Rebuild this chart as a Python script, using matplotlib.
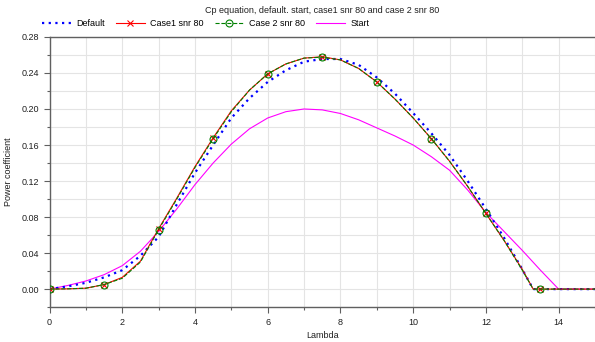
import numpy as np
import matplotlib
matplotlib.use('Agg')
import matplotlib.pyplot as plt
from matplotlib.ticker import MultipleLocator, FormatStrFormatter

plt.rcParams['font.family'] = ['Liberation Sans', 'DejaVu Sans']

# lambda values
lam_def = [0, 0.5, 1, 1.5, 2, 2.5, 3, 3.5, 4, 4.5, 5, 5.5, 6, 6.5, 7, 7.5, 8,
           8.5, 9, 9.5, 10, 10.5, 11, 11.5, 12, 12.5, 13, 13.3, 13.5, 14, 14.5, 15]
cp_def = [0, 0.003, 0.007, 0.013, 0.021, 0.037, 0.058, 0.094, 0.129, 0.160,
          0.190, 0.212, 0.230, 0.243, 0.2525, 0.2555, 0.2555, 0.249, 0.235,
          0.217, 0.1955, 0.173, 0.149, 0.120, 0.089, 0.057, 0.022, 0.0, 0, 0, 0, 0]

lam_case = [0, 0.5, 1, 1.5, 2, 2.5, 3, 3.5, 4, 4.5, 5, 5.5, 6, 6.5, 7, 7.5, 8,
            8.5, 9, 9.5, 10, 10.5, 11, 11.5, 12, 12.5, 13, 13.3, 13.5, 14, 14.5, 15]
cp_case1 = [0, 0.0003, 0.001, 0.005, 0.013, 0.031, 0.067, 0.101, 0.136, 0.168,
            0.198, 0.221, 0.239, 0.250, 0.2565, 0.258, 0.2545, 0.245, 0.230,
            0.211, 0.190, 0.167, 0.142, 0.114, 0.084, 0.054, 0.022, 0.0, 0, 0, 0, 0]
cp_case2 = [0, 0.0003, 0.001, 0.005, 0.012, 0.030, 0.066, 0.100, 0.135, 0.167,
            0.197, 0.221, 0.239, 0.250, 0.2565, 0.2575, 0.2545, 0.245, 0.230,
            0.211, 0.190, 0.167, 0.142, 0.114, 0.084, 0.054, 0.021, 0.0, 0, 0, 0, 0]
marker_lam = [0, 1.5, 3, 4.5, 6, 7.5, 9, 10.5, 12, 13.5]

lam_start = [0, 0.5, 1, 1.5, 2, 2.5, 3, 3.5, 4, 4.5, 5, 5.5, 6, 6.5, 7, 7.5, 8,
             8.5, 9, 9.5, 10, 10.5, 11, 11.5, 12, 12.5, 13, 13.5, 14, 14.5, 15]
cp_start = [0, 0.004, 0.009, 0.016, 0.026, 0.042, 0.064, 0.089, 0.116, 0.140,
            0.161, 0.178, 0.190, 0.197, 0.200, 0.199, 0.195, 0.188, 0.179,
            0.170, 0.160, 0.147, 0.132, 0.110, 0.085, 0.064, 0.043, 0.021, 0.0, 0, 0]

marks = [i for i, l in enumerate(lam_case) if l in marker_lam]

fig = plt.figure(figsize=(5.95, 3.42), dpi=100)
ax = fig.add_axes([0.0832, 0.102, 0.9168, 0.79])

ax.plot(lam_def, cp_def, color='#0000ff', linestyle=(0, (1, 2)), linewidth=1.6,
        label='Default', zorder=3)
ax.plot(lam_case, cp_case1, color='#ff0000', linewidth=0.8, marker='x',
        markersize=4.5, markeredgewidth=0.8, markevery=marks,
        label='Case1 snr 80', zorder=4)
ax.plot(lam_case, cp_case2, color='#008000', linestyle='--', linewidth=0.8,
        marker='o', markersize=5, markerfacecolor='none', markeredgewidth=0.8,
        markevery=marks, label='Case 2 snr 80', zorder=5)
ax.plot(lam_start, cp_start, color='#ff00ff', linewidth=0.8, label='Start',
        zorder=2)

ax.set_xlim(0, 15)
ax.set_ylim(-0.02, 0.28)
ax.xaxis.set_major_locator(MultipleLocator(2))
ax.xaxis.set_minor_locator(MultipleLocator(1))
ax.yaxis.set_major_locator(MultipleLocator(0.04))
ax.yaxis.set_minor_locator(MultipleLocator(0.02))
ax.yaxis.set_major_formatter(FormatStrFormatter('%.2f'))

ax.grid(which='both', color='#e4e4e4', linewidth=0.8)
ax.set_axisbelow(True)
for s in ['left', 'bottom', 'top']:
    ax.spines[s].set_color('#606060')
    ax.spines[s].set_linewidth(1.0)
ax.spines['right'].set_visible(False)
ax.tick_params(which='major', length=4, width=0.8, color='#606060',
               labelsize=6.5, labelcolor='#202020')
ax.tick_params(which='minor', length=2.5, width=0.8, color='#606060')

ax.set_xlabel('Lambda', fontsize=6.5, color='#202020', labelpad=3)
ax.set_ylabel('Power coefficient', fontsize=6.5, color='#202020', labelpad=6)

ax.set_title('Cp equation, default. start, case1 snr 80 and case 2 snr 80',
             fontsize=6.5, color='#202020', pad=17)
ax.legend(loc='lower left', bbox_to_anchor=(-0.02, 1.02), ncol=4,
          frameon=False, fontsize=6.5, handlelength=3.2, columnspacing=1.2,
          handletextpad=0.6, borderaxespad=0)

plt.savefig('out.png', dpi=100)
plt.close(fig)
